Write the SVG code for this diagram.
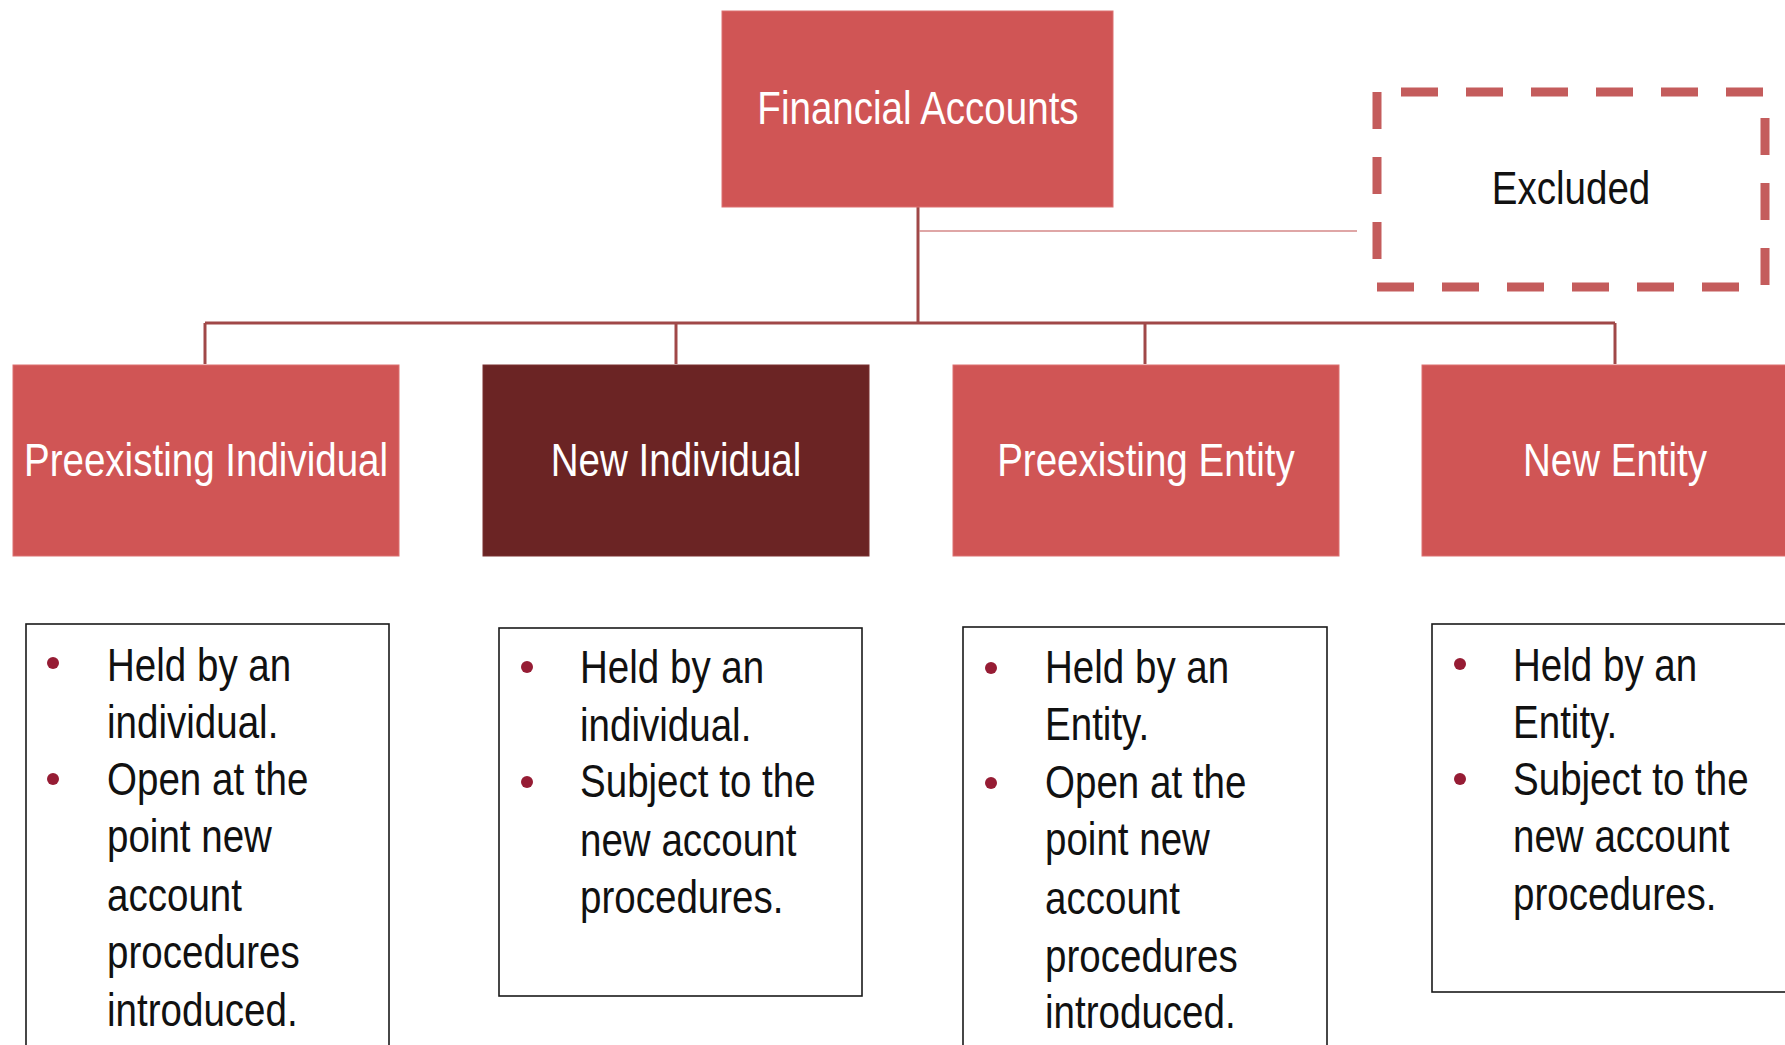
<svg xmlns="http://www.w3.org/2000/svg" width="1785" height="1045" viewBox="0 0 1785 1045">
<style>
.box{fill:#d05555;stroke:#dc7070;stroke-width:1}
.dark{fill:#6b2424;stroke:#7a3030;stroke-width:1}
.lbl{font-family:"Liberation Sans",Arial,sans-serif;font-size:47px;fill:#ffffff;text-anchor:middle}
.desc{fill:#ffffff;stroke:#1a1a1a;stroke-width:1.6}
.txt{font-family:"Liberation Sans",Arial,sans-serif;font-size:47px;fill:#111111}
.dot{fill:#961c34}
.conn{stroke:#a04848;stroke-width:3;fill:none}
</style>
<rect width="1785" height="1045" fill="#ffffff"/>
<g id="connectors">
<line class="conn" x1="918" y1="207" x2="918" y2="323"/>
<line class="conn" x1="205" y1="323" x2="1615" y2="323"/>
<line class="conn" x1="205" y1="323" x2="205" y2="364"/>
<line class="conn" x1="676" y1="323" x2="676" y2="364"/>
<line class="conn" x1="1145" y1="323" x2="1145" y2="364"/>
<line class="conn" x1="1615" y1="323" x2="1615" y2="364"/>
<line x1="919" y1="231" x2="1357" y2="231" stroke="#d48888" stroke-width="1.5"/>
</g>
<g id="financial-accounts">
<rect class="box" x="722" y="11" width="391" height="196"/>
<text class="lbl" transform="translate(918,124) scale(0.82,1)" x="0" y="0">Financial Accounts</text>
</g>
<g id="excluded">
<rect x="1377" y="92" width="388" height="195" fill="none" stroke="#c45c5c" stroke-width="9" stroke-dasharray="37 28" stroke-dashoffset="41"/>
<text class="txt" transform="translate(1571,204) scale(0.82,1)" x="0" y="0" text-anchor="middle">Excluded</text>
</g>
<g id="preexisting-individual">
<rect class="box" x="13" y="365" width="386" height="191"/>
<text class="lbl" transform="translate(206,476) scale(0.82,1)" x="0" y="0">Preexisting Individual</text>
</g>
<g id="new-individual">
<rect class="dark" x="483" y="365" width="386" height="191"/>
<text class="lbl" transform="translate(676,476) scale(0.82,1)" x="0" y="0">New Individual</text>
</g>
<g id="preexisting-entity">
<rect class="box" x="953" y="365" width="386" height="191"/>
<text class="lbl" transform="translate(1146,476) scale(0.82,1)" x="0" y="0">Preexisting Entity</text>
</g>
<g id="new-entity">
<rect class="box" x="1422" y="365" width="386" height="191"/>
<text class="lbl" transform="translate(1615,476) scale(0.82,1)" x="0" y="0">New Entity</text>
</g>
<g id="desc-preexisting-individual">
<rect class="desc" x="26" y="624" width="363" height="440"/>
<circle class="dot" cx="53" cy="663" r="6"/>
<circle class="dot" cx="53" cy="779" r="6"/>
<text class="txt" transform="translate(107,0) scale(0.82,1)"><tspan x="0" y="681">Held by an</tspan><tspan x="0" y="738">individual.</tspan><tspan x="0" y="795">Open at the</tspan><tspan x="0" y="852">point new</tspan><tspan x="0" y="911">account</tspan><tspan x="0" y="968">procedures</tspan><tspan x="0" y="1026">introduced.</tspan></text>
</g>
<g id="desc-new-individual">
<rect class="desc" x="499" y="628" width="363" height="368"/>
<circle class="dot" cx="527" cy="667" r="6"/>
<circle class="dot" cx="527" cy="782" r="6"/>
<text class="txt" transform="translate(580,0) scale(0.82,1)"><tspan x="0" y="683">Held by an</tspan><tspan x="0" y="741">individual.</tspan><tspan x="0" y="797">Subject to the</tspan><tspan x="0" y="856">new account</tspan><tspan x="0" y="913">procedures.</tspan></text>
</g>
<g id="desc-preexisting-entity">
<rect class="desc" x="963" y="627" width="364" height="440"/>
<circle class="dot" cx="991" cy="668" r="6"/>
<circle class="dot" cx="991" cy="783" r="6"/>
<text class="txt" transform="translate(1045,0) scale(0.82,1)"><tspan x="0" y="683">Held by an</tspan><tspan x="0" y="740">Entity.</tspan><tspan x="0" y="798">Open at the</tspan><tspan x="0" y="855">point new</tspan><tspan x="0" y="914">account</tspan><tspan x="0" y="972">procedures</tspan><tspan x="0" y="1028">introduced.</tspan></text>
</g>
<g id="desc-new-entity">
<rect class="desc" x="1432" y="624" width="363" height="368"/>
<circle class="dot" cx="1460" cy="664" r="6"/>
<circle class="dot" cx="1460" cy="779" r="6"/>
<text class="txt" transform="translate(1513,0) scale(0.82,1)"><tspan x="0" y="681">Held by an</tspan><tspan x="0" y="738">Entity.</tspan><tspan x="0" y="795">Subject to the</tspan><tspan x="0" y="852">new account</tspan><tspan x="0" y="910">procedures.</tspan></text>
</g>
</svg>
